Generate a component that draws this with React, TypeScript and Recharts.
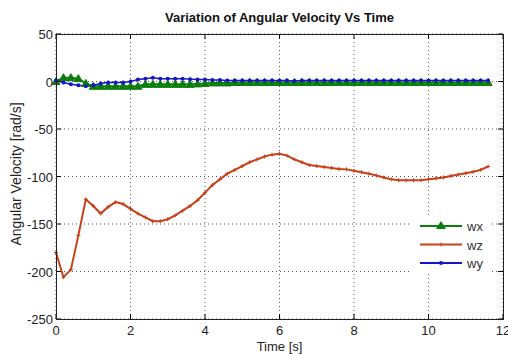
import React from 'react';
import { LineChart, Line, XAxis, YAxis, CartesianGrid } from 'recharts';

// sample times [s]
const TIME = [
  0, 0.2, 0.4, 0.6, 0.8, 1.0, 1.2, 1.4, 1.6, 1.8,
  2.0, 2.2, 2.4, 2.6, 2.8, 3.0, 3.2, 3.4, 3.6, 3.8,
  4.0, 4.2, 4.4, 4.6, 4.8, 5.0, 5.2, 5.4, 5.6, 5.8,
  6.0, 6.2, 6.4, 6.6, 6.8, 7.0, 7.2, 7.4, 7.6, 7.8,
  8.0, 8.2, 8.4, 8.6, 8.8, 9.0, 9.2, 9.4, 9.6, 9.8,
  10.0, 10.2, 10.4, 10.6, 10.8, 11.0, 11.2, 11.4, 11.6,
];

const WX = [
  0, 4, 4, 3, -2, -5, -5, -5, -5, -5,
  -5, -5, -3, -3, -3, -3, -3, -3, -3, -2.5,
  -2, -1.5, -1.5, -1.5, -1, -1, -1, -1, -1, -1,
  -1, -1, -1, -1, -1, -1, -1, -1, -1, -1,
  -1, -1, -1, -1, -1, -1, -1, -1, -1, -1,
  -1, -1, -1, -1, -1, -1, -1, -1, -1,
];

const WZ = [
  -180, -206, -198, -162, -124, -131, -139, -132, -127, -129,
  -134, -139, -143, -147, -147, -145, -141, -136, -131, -125,
  -117, -109, -103, -97, -93, -89, -85, -82, -79, -77,
  -76, -78, -82, -85, -88, -89, -90, -91, -92, -92.5,
  -94, -95.5, -97, -99, -101, -103, -104, -104, -104, -104,
  -103, -102, -101, -99.5, -98, -96.5, -95, -93, -89.5,
];

const WY = [
  1, -1, -3, -4, -5, -4, -2, -1, -1, -1,
  0, 2, 3, 4, 3, 3, 3, 3, 2.5, 2,
  2, 1.5, 1.5, 1, 1, 1, 1, 1, 1, 1,
  1, 1, 0.5, 1, 1, 1, 1, 1, 1, 1,
  1, 1, 1, 1, 1, 1, 1, 1, 1, 1,
  1, 1, 1, 1, 1, 1, 1, 1, 1,
];

const X_TICKS = [0, 2, 4, 6, 8, 10, 12];
const Y_TICKS = [-250, -200, -150, -100, -50, 0, 50];

const data = TIME.map((t, i) => ({ t, wx: WX[i], wz: WZ[i], wy: WY[i] }));

const GREEN = '#0a7d0a';
const RED = '#c8401a';
const BLUE = '#1414c8';
const FONT = '"Liberation Sans", Arial, sans-serif';

// plot box in page pixels
const PLOT = { left: 56, top: 34, right: 503, bottom: 319 };

const triangleDot = (props: any) => {
  const { cx, cy, index } = props;
  return (
    <polygon
      key={`wx-${index}`}
      points={`${cx},${cy - 4} ${cx - 4},${cy + 3} ${cx + 4},${cy + 3}`}
      fill={GREEN}
      stroke={GREEN}
    />
  );
};

const plusDot = (props: any) => {
  const { cx, cy, index } = props;
  return (
    <path
      key={`wz-${index}`}
      d={`M${cx - 2},${cy}H${cx + 2}M${cx},${cy - 2}V${cy + 2}`}
      stroke={RED}
      strokeWidth={1}
    />
  );
};

const roundDot = (props: any) => {
  const { cx, cy, index } = props;
  return <circle key={`wy-${index}`} cx={cx} cy={cy} r={2} fill={BLUE} />;
};

const XTick = (props: any) => {
  const { x, payload } = props;
  return (
    <g>
      <line x1={x} x2={x} y1={PLOT.bottom} y2={PLOT.bottom - 5} stroke="#000" />
      <line x1={x} x2={x} y1={PLOT.top} y2={PLOT.top + 5} stroke="#000" />
      <text x={x} y={PLOT.bottom + 16} textAnchor="middle" fontSize={13} fontFamily={FONT} fill="#222">
        {payload.value}
      </text>
    </g>
  );
};

const YTick = (props: any) => {
  const { y, payload } = props;
  return (
    <g>
      <line x1={PLOT.left} x2={PLOT.left + 5} y1={y} y2={y} stroke="#000" />
      <line x1={PLOT.right} x2={PLOT.right - 5} y1={y} y2={y} stroke="#000" />
      <text x={PLOT.left - 3} y={y + 5} textAnchor="end" fontSize={13} fontFamily={FONT} fill="#222">
        {payload.value}
      </text>
    </g>
  );
};

const LEGEND = [
  { name: 'wx', color: GREEN, marker: 'triangle' },
  { name: 'wz', color: RED, marker: 'plus' },
  { name: 'wy', color: BLUE, marker: 'dot' },
];

const LegendBox = () => (
  <div
    style={{
      position: 'absolute',
      left: 412,
      top: 216,
      width: 80,
      height: 58,
      background: '#fff',
    }}
  >
    <svg width={80} height={58}>
      {LEGEND.map((s, i) => {
        const y = 10 + i * 18.5;
        return (
          <g key={s.name}>
            <line x1={8} x2={50} y1={y} y2={y} stroke={s.color} strokeWidth={2} />
            {s.marker === 'triangle' && (
              <polygon points={`29,${y - 5} 24,${y + 3} 34,${y + 3}`} fill={s.color} />
            )}
            {s.marker === 'plus' && (
              <path d={`M27,${y}H31M29,${y - 2}V${y + 2}`} stroke={s.color} />
            )}
            {s.marker === 'dot' && <circle cx={29} cy={y} r={2} fill={s.color} />}
            <text x={55} y={y + 5} fontSize={13} fontFamily={FONT} fill="#333">
              {s.name}
            </text>
          </g>
        );
      })}
    </svg>
  </div>
);

export default function App() {
  return (
    <div style={{ position: 'absolute', left: 0, top: 0, width: 508, height: 356, background: '#fff' }}>
      <div
        style={{
          position: 'absolute',
          left: PLOT.left,
          width: PLOT.right - PLOT.left,
          top: 10,
          textAlign: 'center',
          fontFamily: FONT,
          fontWeight: 'bold',
          fontSize: 13,
          color: '#111',
        }}
      >
        Variation of Angular Velocity Vs Time
      </div>
      <LineChart
        width={508}
        height={356}
        data={data}
        margin={{ top: PLOT.top, right: 508 - PLOT.right, left: 0, bottom: 0 }}
      >
        <CartesianGrid stroke="#555" strokeDasharray="1 3" />
        <XAxis
          dataKey="t"
          type="number"
          domain={[0, 12]}
          ticks={X_TICKS}
          axisLine={false}
          tickLine={false}
          tick={<XTick />}
          height={356 - PLOT.bottom}
          interval={0}
        />
        <YAxis
          type="number"
          domain={[-250, 50]}
          ticks={Y_TICKS}
          axisLine={false}
          tickLine={false}
          tick={<YTick />}
          width={PLOT.left}
          interval={0}
        />
        <Line dataKey="wx" stroke={GREEN} strokeWidth={2} dot={triangleDot} isAnimationActive={false} />
        <Line dataKey="wz" stroke={RED} strokeWidth={2} dot={plusDot} isAnimationActive={false} />
        <Line dataKey="wy" stroke={BLUE} strokeWidth={1.5} dot={roundDot} isAnimationActive={false} />
      </LineChart>
      <div
        style={{
          position: 'absolute',
          left: PLOT.left,
          top: PLOT.top,
          width: PLOT.right - PLOT.left + 1,
          height: PLOT.bottom - PLOT.top + 1,
          border: '1px solid #222',
          boxSizing: 'border-box',
          pointerEvents: 'none',
        }}
      />
      <LegendBox />
      <div
        style={{
          position: 'absolute',
          left: PLOT.left,
          width: PLOT.right - PLOT.left,
          top: 339,
          textAlign: 'center',
          fontFamily: FONT,
          fontSize: 13,
          color: '#222',
        }}
      >
        Time [s]
      </div>
      <div
        style={{
          position: 'absolute',
          left: 16,
          top: 174,
          transform: 'translate(-50%, -50%) rotate(-90deg)',
          whiteSpace: 'nowrap',
          fontFamily: FONT,
          fontSize: 14,
          color: '#222',
        }}
      >
        Angular Velocity [rad/s]
      </div>
    </div>
  );
}
